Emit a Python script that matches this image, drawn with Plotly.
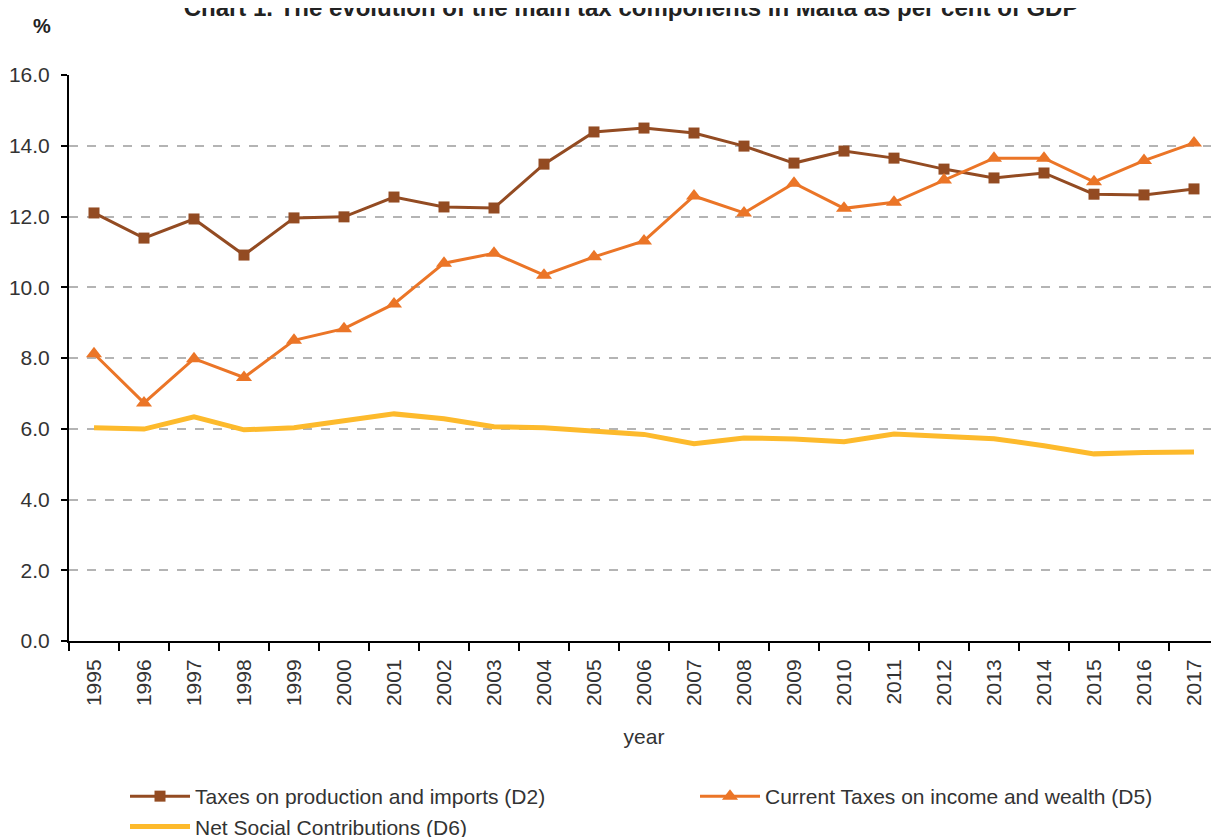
import plotly.graph_objects as go

years = [str(y) for y in range(1995, 2018)]
d2 = [12.10, 11.39, 11.93, 10.91, 11.96, 11.99, 12.55, 12.27, 12.24, 13.48, 14.39, 14.50,
      14.36, 13.99, 13.51, 13.85, 13.65, 13.34, 13.09, 13.23, 12.63, 12.61, 12.78]
d5 = [8.12, 6.73, 7.98, 7.45, 8.50, 8.83, 9.53, 10.68, 10.96, 10.34, 10.86, 11.31,
      12.58, 12.10, 12.94, 12.23, 12.40, 13.03, 13.65, 13.65, 12.98, 13.58, 14.08]
d6 = [6.03, 5.99, 6.34, 5.97, 6.03, 6.23, 6.42, 6.28, 6.06, 6.03, 5.95, 5.84,
      5.58, 5.74, 5.71, 5.63, 5.85, 5.77, 5.72, 5.52, 5.29, 5.33, 5.34]
yticks = [0, 2, 4, 6, 8, 10, 12, 14, 16]

FONT = "Liberation Sans, Arial, sans-serif"

fig = go.Figure()
fig.add_trace(go.Scatter(x=years, y=d2, mode="lines+markers", name="Taxes on production and imports (D2)",
                         line=dict(color="#934B22", width=3),
                         marker=dict(symbol="square", size=11, color="#934B22")))
fig.add_trace(go.Scatter(x=years, y=d5, mode="lines+markers", name="Current Taxes on income and wealth (D5)",
                         line=dict(color="#EB7527", width=3),
                         marker=dict(symbol="triangle-up", size=14, color="#EB7527")))
fig.add_trace(go.Scatter(x=years, y=d6, mode="lines", name="Net Social Contributions (D6)",
                         line=dict(color="#FDBA2C", width=5)))

fig.update_layout(
    width=1211, height=829,
    margin=dict(l=61, r=0, t=67, b=196, autoexpand=False),
    paper_bgcolor="white", plot_bgcolor="white",
    font=dict(family=FONT, size=21, color="#404040"),
    title=dict(text="<b>Chart 1. The evolution of the main tax components in Malta as per cent of GDP</b>",
               x=0.5145, xanchor="center", y=1.0, yanchor="middle", yref="container",
               font=dict(size=24, color="#222222", family=FONT)),
    showlegend=True,
    legend=dict(orientation="h", x=0.0487, xanchor="left", y=-0.2385, yanchor="top",
                entrywidth=495, entrywidthmode="pixels",
                font=dict(size=21, color="#333333", family=FONT), tracegroupgap=0,
                itemwidth=60),
    annotations=[dict(text="<b>%</b>", xref="paper", yref="paper", x=-0.0235, y=1.0866,
                      xanchor="center", yanchor="middle", showarrow=False,
                      font=dict(size=20, color="#222222", family=FONT))],
)
fig.update_xaxes(type="category", range=[-0.5, 22.5], tickangle=-90, tickson="boundaries",
                 ticks="outside", ticklen=8, tickcolor="black", tickwidth=2, showline=True,
                 linecolor="black", linewidth=2, showgrid=False, automargin=False,
                 ticklabelstandoff=8,
                 title=dict(text="year", font=dict(size=21, color="#333333"), standoff=24),
                 tickfont=dict(size=21, color="#333333"))
fig.update_yaxes(range=[0, 16], tickvals=yticks, tickformat=".1f", ticks="outside", ticklen=6,
                 tickcolor="black", tickwidth=2, showline=True, linecolor="black", linewidth=2,
                 showgrid=True, gridcolor="#B4B4B4", griddash="dash", gridwidth=1.5,
                 zeroline=False, automargin=False, ticklabelstandoff=7,
                 tickfont=dict(size=21, color="#333333"))

fig.write_html("out.html")
